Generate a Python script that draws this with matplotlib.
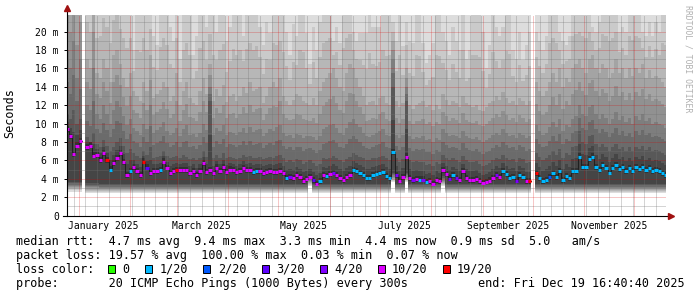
import datetime as dt
import numpy as np
import matplotlib
matplotlib.use("Agg")
import matplotlib.pyplot as plt
import matplotlib.dates as mdates
from matplotlib.patches import Rectangle

# ---------------------------------------------------------------- data
END_TIME = dt.datetime(2025, 12, 19, 16, 40, 40)
SPAN_DAYS = 360
BIN_START = dt.datetime(2024, 12, 24)   # first 2-day consolidation bin
BIN_DAYS = 2
nan = float("nan")

median_ms = [
    9.4, 8.6, 6.7, 7.6, 8.1, nan, 7.4, 7.6, 6.5, 6.6,
    6.0, 6.8, 6.0, 5.0, 5.7, 6.2, 6.8, 5.8, 4.35, 4.8,
    5.25, 4.8, 4.4, 5.85, 5.2, 4.6, 4.8, 4.8, 4.9, 5.85,
    5.15, 4.6, 4.85, 4.9, 4.95, 4.9, 4.95, 4.6, 4.8, 4.4,
    4.8, 5.7, 4.7, 4.95, 4.6, 5.2, 4.85, 5.3, 4.7, 5.0,
    4.9, 4.7, 4.8, 5.15, 4.9, 4.9, 4.7, 4.8, 4.8, 4.6,
    4.7, 4.8, 4.7, 4.75, 4.85, 4.6, 4.05, 4.2, 4.05, 4.4,
    4.2, 3.75, 3.95, 4.2, 3.85, 3.45, 3.7, 4.4, 4.3, 4.5,
    4.65, 4.4, 4.05, 3.85, 4.2, 4.4, 4.95, 4.8, 4.6, 4.4,
    4.1, 4.1, 4.35, 4.55, 4.6, 4.7, 4.3, 4.05, 6.85, 4.4,
    3.8, 4.2, 6.4, 4.05, 3.85, 3.95, 3.9, 3.9, 3.6, 3.7,
    3.4, 3.85, 3.7, 4.9, 4.5, 4.0, 4.4, 4.05, 3.85, 4.8,
    4.05, 3.85, 3.85, 3.95, 3.7, 3.5, 3.6, 3.8, 4.05, 4.4,
    4.2, 4.8, 4.5, 4.05, 4.2, 3.8, 4.4, 4.2, 3.7, 3.7,
    nan, 4.6, 4.05, 3.7, 3.85, 4.2, 4.6, 4.2, 4.8, 3.85,
    4.3, 4.05, 4.8, 4.85, 6.4, 5.3, 5.25, 6.1, 6.4, 5.3,
    4.95, 5.5, 5.15, 4.65, 5.15, 5.5, 5.05, 5.25, 4.85, 5.15,
    4.85, 5.25, 5.05, 5.3, 4.95, 5.15, 4.85, 4.95, 4.8, 4.6,
    4.4,
]

# index into LOSS_LABELS (-1 = no data)
loss_class = [
    5, 5, 5, 5, 5, -1, 5, 5, 5, 5,
    5, 5, 6, 1, 5, 5, 5, 5, 5, 1,
    5, 5, 5, 6, 3, 5, 5, 5, 1, 5,
    5, 5, 5, 6, 5, 5, 5, 5, 5, 5,
    5, 5, 5, 5, 5, 5, 5, 5, 5, 5,
    5, 5, 5, 5, 5, 5, 1, 1, 5, 5,
    5, 5, 5, 5, 5, 5, 1, 4, 5, 5,
    5, 5, 5, 5, 3, 5, 1, 5, 1, 5,
    4, 5, 5, 5, 5, 5, 1, 1, 1, 1,
    1, 1, 1, 1, 1, 1, 1, 1, 1, 4,
    5, 5, 5, 5, 4, 5, 1, 4, 1, 5,
    5, 5, 5, 5, 5, 4, 1, 4, 5, 5,
    5, 5, 5, 5, 5, 5, 5, 5, 5, 4,
    5, 1, 1, 1, 1, 4, 1, 1, 5, 6,
    -1, 6, 1, 1, 1, 2, 1, 1, 1, 1,
    1, 1, 1, 1, 1, 1, 1, 1, 1, 1,
    1, 1, 1, 1, 1, 1, 1, 1, 1, 1,
    1, 1, 1, 1, 1, 1, 1, 1, 1, 1,
    1,
]

# lowest ping of each bin (bottom of the smoke), ms
smoke_floor = [
    2.6, 2.6, 2.6, 2.6, 2.6, nan, 2.45, 2.45, 2.45, 2.45,
    2.4, 2.4, 2.4, 2.4, 2.4, 2.4, 2.4, 2.4, 2.4, 2.4,
    2.4, 2.4, 2.4, 2.4, 2.4, 2.4, 2.4, 2.4, 2.4, 2.4,
    2.4, 2.4, 2.4, 2.4, 2.4, 2.4, 2.4, 2.4, 2.4, 2.4,
    2.4, 2.4, 2.4, 2.4, 2.4, 2.4, 2.4, 2.4, 2.4, 2.4,
    2.4, 2.4, 2.4, 2.4, 2.4, 2.4, 2.4, 2.4, 2.4, 2.4,
    2.4, 2.4, 2.4, 2.4, 2.4, 2.4, 2.4, 2.4, 2.4, 2.4,
    2.4, 2.4, 2.4, 3.2, 2.4, 2.4, 2.4, 2.4, 2.4, 2.4,
    2.4, 2.4, 2.4, 2.4, 2.4, 2.4, 2.4, 2.4, 2.4, 2.4,
    2.4, 2.4, 2.4, 2.4, 2.4, 2.4, 2.4, 2.4, 3.6, 2.4,
    2.4, 2.4, 3.6, 2.4, 2.4, 2.4, 2.4, 2.4, 2.4, 2.4,
    2.4, 2.4, 2.4, 3.2, 2.4, 2.4, 2.4, 2.4, 2.4, 2.4,
    2.4, 2.4, 2.4, 2.4, 2.4, 2.4, 2.4, 2.4, 2.4, 2.4,
    2.4, 2.4, 2.4, 2.4, 2.4, 2.4, 2.4, 2.4, 2.4, 2.4,
    nan, 2.4, 2.4, 2.4, 2.4, 2.4, 2.4, 2.4, 2.4, 2.4,
    2.4, 2.4, 2.4, 2.4, 2.4, 2.4, 2.4, 2.4, 2.4, 2.4,
    2.4, 2.4, 2.4, 2.4, 2.4, 2.4, 2.4, 2.4, 2.4, 2.4,
    2.4, 2.4, 2.4, 2.4, 2.4, 2.4, 2.4, 2.4, 2.4, 2.4,
    2.4,
]

# 13th sorted ping (top of the dark smoke), ms
smoke_p13 = [
    11, 10.5, 11.5, 10, 10.5, nan, 8.5, 8, 9, 7.8,
    7.5, 8.2, 7.6, 7.0, 7.4, 8.0, 8.4, 7.6, 6.8, 7.2,
    6.8, 6.5, 6.2, 7.0, 6.6, 7.5, 6.3, 6.4, 6.5, 7.0,
    6.5, 6.2, 6.4, 6.5, 6.2, 6.6, 6.4, 6.1, 6.3, 6.0,
    6.3, 7.0, 6.4, 12.5, 6.2, 6.6, 6.3, 6.8, 6.2, 6.4,
    6.3, 6.1, 6.3, 6.6, 6.4, 6.5, 6.2, 6.3, 6.4, 6.1,
    6.3, 6.4, 6.2, 6.5, 6.6, 6.2, 5.8, 6.0, 5.8, 6.1,
    6.0, 5.6, 5.8, 6.0, 5.7, 5.4, 5.6, 6.2, 6.1, 6.3,
    6.5, 6.3, 6.0, 5.8, 6.1, 6.4, 6.8, 6.6, 6.4, 6.2,
    6.0, 6.0, 6.2, 6.3, 6.4, 6.5, 6.2, 6.0, 14.0, 6.3,
    5.8, 6.1, 12.5, 6.0, 5.8, 5.9, 5.8, 5.8, 5.5, 5.6,
    5.4, 5.8, 5.6, 6.6, 6.3, 6.0, 6.2, 6.0, 5.8, 6.5,
    6.0, 5.8, 5.8, 5.9, 5.6, 5.4, 5.5, 5.7, 6.0, 6.3,
    6.1, 6.6, 6.3, 6.0, 6.1, 5.8, 6.3, 6.1, 5.7, 5.8,
    nan, 6.8, 6.4, 6.0, 6.2, 6.6, 7.0, 6.6, 7.2, 6.3,
    6.8, 6.6, 7.4, 7.6, 9.2, 8.0, 7.8, 8.6, 8.8, 7.8,
    7.4, 7.8, 7.5, 7.0, 7.4, 7.8, 7.2, 7.5, 7.0, 7.4,
    7.0, 7.5, 7.2, 7.6, 7.1, 7.4, 7.0, 7.1, 7.0, 6.8,
    6.6,
]

# 15th sorted ping, ms
smoke_p15 = [
    18, 16, 19, 15, 17, nan, 12, 11.5, 16, 11,
    10.5, 12, 11, 10, 11.5, 12.5, 11.8, 10.8, 9.8, 10.5,
    9.5, 9.2, 8.8, 10, 9.4, 12, 9.0, 9.3, 9.6, 10.2,
    9.2, 8.8, 9.0, 9.5, 8.6, 9.4, 9.8, 8.7, 8.9, 8.5,
    9.0, 10.0, 9.3, 14.0, 8.8, 9.5, 9.2, 9.8, 8.8, 9.1,
    9.0, 8.7, 9.1, 9.5, 9.0, 9.6, 9.1, 9.3, 9.4, 8.6,
    9.0, 9.4, 9.2, 9.6, 9.8, 9.0, 8.6, 8.8, 8.4, 8.9,
    8.8, 8.4, 8.6, 8.6, 8.5, 8.2, 8.6, 9.4, 9.6, 9.8,
    10.0, 9.5, 9.0, 8.8, 9.5, 10.2, 10.5, 10.0, 9.6, 9.0,
    8.6, 8.5, 8.8, 9.0, 9.2, 9.4, 8.8, 8.6, 17.0, 8.8,
    8.4, 8.7, 14.0, 8.6, 8.3, 8.5, 8.4, 8.6, 8.2, 8.3,
    8.0, 8.4, 8.2, 9.4, 9.0, 8.6, 8.8, 8.6, 8.4, 9.2,
    8.6, 8.4, 8.3, 8.5, 8.2, 8.0, 8.2, 8.4, 8.7, 9.0,
    8.8, 9.4, 9.0, 8.6, 8.8, 8.4, 9.0, 8.8, 8.4, 8.6,
    nan, 9.8, 9.2, 8.8, 9.0, 9.6, 10.2, 9.6, 10.5, 9.2,
    9.8, 9.6, 10.5, 10.8, 12.0, 11.0, 10.8, 11.8, 12.0, 11.0,
    10.5, 11.0, 10.6, 10.0, 10.5, 11.2, 10.4, 10.8, 10.2, 10.6,
    10.0, 10.8, 10.4, 11.0, 10.3, 10.6, 10.0, 10.2, 10.0, 9.8,
    9.5,
]

# 17th sorted ping, ms
smoke_p17 = [
    26, 24, 27, 22, 25, nan, 17, 16, 24, 15.5,
    15, 17, 16, 14.5, 17.5, 18, 16.5, 15, 14, 15.5,
    13.5, 13, 12.5, 14.5, 13.5, 17.5, 12.8, 13.2, 13.6, 14.5,
    14.0, 12.5, 13.0, 15.5, 12.0, 13.5, 14.5, 12.8, 12.2, 12.0,
    13.5, 15.0, 13.2, 16.5, 12.5, 13.8, 13.0, 14.2, 12.3, 13.0,
    13.2, 12.4, 13.0, 14.0, 13.3, 14.5, 13.5, 13.8, 14.0, 12.2,
    13.0, 14.0, 14.5, 14.0, 15.0, 13.0, 12.5, 12.0, 12.6, 13.2,
    13.0, 12.5, 12.2, 12.0, 12.8, 12.0, 13.5, 14.5, 15.0, 15.5,
    16.0, 15.0, 14.0, 13.5, 15.5, 16.5, 16.0, 15.0, 14.0, 13.0,
    12.0, 12.3, 12.5, 12.0, 12.8, 13.0, 12.2, 12.0, 19.0, 12.4,
    11.8, 12.2, 16.0, 12.0, 11.6, 12.0, 12.2, 12.4, 11.8, 12.0,
    11.5, 12.0, 11.6, 13.2, 12.6, 12.0, 12.4, 12.2, 11.8, 13.0,
    12.2, 12.0, 11.8, 12.0, 11.5, 11.4, 11.8, 12.2, 12.5, 13.0,
    12.6, 13.4, 12.8, 12.2, 12.4, 12.0, 12.8, 12.4, 12.0, 12.4,
    nan, 14.5, 13.5, 13.0, 13.5, 14.5, 15.5, 14.5, 16.0, 14.0,
    15.0, 14.5, 16.0, 16.5, 17.0, 16.0, 15.5, 17.0, 17.5, 16.0,
    15.5, 16.5, 16.0, 15.0, 15.5, 17.0, 15.5, 16.0, 15.0, 16.0,
    15.2, 16.0, 15.5, 16.5, 15.0, 15.8, 15.0, 15.2, 15.0, 14.5,
    14.0,
]

# 19th sorted ping, ms
smoke_p19 = [
    30, 28, 30, 27, 28, nan, 25, 24, 26, 23,
    24, 26, 25, 23, 25, 26, 24, 23.5, 22.5, 23,
    18.0, 23, 23, 24, 22.5, 23, 19.5, 18.5, 23, 24,
    23, 20.5, 19.0, 23, 17.0, 22.5, 23, 22, 17.5, 19.5,
    23, 23, 20.5, 23, 22.5, 20, 23, 23, 19, 20.5,
    23, 22.5, 23, 19.5, 23, 23, 22.5, 23, 20.5, 18.5,
    21, 19.8, 23, 23, 23, 22.5, 20, 17.5, 20.8, 19.5,
    23, 23, 19.8, 16.5, 20.5, 18.0, 21, 23, 23, 23,
    19.0, 20.5, 18.7, 23, 23, 23, 20.0, 19.0, 19.8, 19.8,
    19.8, 23, 20.5, 20.5, 20.5, 23, 22.5, 23, 21.0, 19.0,
    23, 18.4, 21, 19.0, 18.8, 23, 22.5, 18.7, 16.6, 17.5,
    18.7, 23, 23, 20.0, 19.0, 17.5, 20.5, 19.0, 18.0, 23,
    17.0, 18.0, 23, 23, 23, 20.0, 16.0, 18.5, 23, 20.5,
    19.5, 20.5, 23, 23, 18.0, 17.0, 20.0, 16.9, 18.5, 20.0,
    nan, 20.0, 19.0, 18.0, 19.5, 23, 23, 23, 20.0, 19.0,
    18.5, 19.5, 23, 23, 23, 23, 23, 23, 20.5, 20.0,
    21.0, 23, 23, 23, 23, 23, 20.0, 20.5, 20.0, 23,
    23, 23, 23, 20.0, 19.5, 21.0, 19.5, 21.0, 20.0, 23,
    23,
]

LOSS_LABELS = ["0", "1/20", "2/20", "3/20", "4/20", "10/20", "19/20"]
LOSS_COLORS = ["#26ff00", "#00b8ff", "#0059ff", "#5e00ff", "#7e00ff", "#dd00ff", "#ff0000"]

Y_TICKS = [0, 2, 4, 6, 8, 10, 12, 14, 16, 18, 20]
MONTH_LABELS = ["January 2025", "March 2025", "May 2025", "July 2025",
                "September 2025", "November 2025"]
MONTH_LABEL_STARTS = [dt.datetime(2025, m, 1) for m in (1, 3, 5, 7, 9, 11)]

MEDIAN_STATS = [4.7, 9.4, 3.3, 4.4]          # avg, max, min, now (ms)
MEDIAN_SD = 0.9
MEDIAN_AMS = 5.0
LOSS_STATS = [19.57, 100.00, 0.03, 0.07]     # avg, max, min, now (%)
PROBE_TEXT = "20 ICMP Echo Pings (1000 Bytes) every 300s"

# ---------------------------------------------------------------- style
W, H = 697, 297
FONT = "DejaVu Sans Mono"
SMOKE_GRAYS = ["#dddddd", "#cacaca", "#b7b7b7", "#a4a4a4", "#919191",
               "#7e7e7e", "#6b6b6b", "#585858", "#454545", "#323232"]
AX_L, AX_R, AX_B, AX_T = 66.5, 665.5, 215.5, 14.5
Y_MAX = 21.85

fig = plt.figure(figsize=(W / 100, H / 100), dpi=100)
fig.patch.set_facecolor("white")
ax = fig.add_axes([AX_L / W, 1 - AX_B / H, (AX_R - AX_L) / W, (AX_B - AX_T) / H])
ax.set_facecolor("white")

START_TIME = END_TIME - dt.timedelta(days=SPAN_DAYS)
t_end = mdates.date2num(END_TIME)
t_start = mdates.date2num(START_TIME)
ax.set_xlim(t_start, t_end)
ax.set_ylim(0, Y_MAX)

n = len(median_ms)
edges = mdates.date2num(BIN_START) + BIN_DAYS * np.arange(n + 1)
xs = np.repeat(edges, 2)[1:-1]


def stepped(v):
    return np.repeat(np.asarray(v, dtype=float), 2)


med = np.array(median_ms, dtype=float)
fl = np.array(smoke_floor, dtype=float)
p13 = np.array(smoke_p13, dtype=float)
p15 = np.array(smoke_p15, dtype=float)
p17 = np.array(smoke_p17, dtype=float)
p19 = np.array(smoke_p19, dtype=float)

# smoke layers (gray gradient between the sorted pings)
low_off = [0, 0.12, 0.24, 0.36, 0.48, 0.6, 0.75, 0.9, 1.05]
lows = [fl + o for o in low_off]
core_lo = lows[-1]
m_lo = np.maximum(med - 0.3, core_lo)
m_hi = med + 0.35
p12 = np.maximum((med + p13) / 2, m_hi)
p14 = (p13 + p15) / 2
p16 = (p15 + p17) / 2
p18 = (p17 + p19) / 2
top = np.where(np.isnan(med), nan, 40.0)

layers = [(lows[i], lows[i + 1], SMOKE_GRAYS[i]) for i in range(8)]
layers += [
    (core_lo, m_lo, SMOKE_GRAYS[8]),
    (m_lo, m_hi, SMOKE_GRAYS[9]),
    (m_hi, p12, SMOKE_GRAYS[8]),
    (p12, p13, SMOKE_GRAYS[7]),
    (p13, p14, SMOKE_GRAYS[6]),
    (p14, p15, SMOKE_GRAYS[5]),
    (p15, p16, SMOKE_GRAYS[4]),
    (p16, p17, SMOKE_GRAYS[3]),
    (p17, p18, SMOKE_GRAYS[2]),
    (p18, p19, SMOKE_GRAYS[1]),
    (p19, top, SMOKE_GRAYS[0]),
]
for lo, hi, col in layers:
    ax.fill_between(xs, stepped(lo), stepped(hi), color=col, lw=0,
                    antialiased=False, zorder=1)

# grid (1px dotted, as rrdtool draws it)
MINOR_GRID = (0.45, 0.45, 0.45, 0.3)
MAJOR_GRID = (0.85, 0.0, 0.0, 0.22)
dots = (0, (1, 1))
weeks = mdates.WeekdayLocator(byweekday=mdates.SU).tick_values(START_TIME, END_TIME)
months = mdates.MonthLocator().tick_values(START_TIME, END_TIME)
weeks = [w for w in weeks if t_start < w < t_end]
months = [m for m in months if t_start < m < t_end]
gkw = dict(linestyles=dots, lw=0.72, antialiased=False)
ax.vlines(weeks, 0, Y_MAX, colors=[MINOR_GRID], zorder=2, **gkw)
ax.vlines(months, 0, Y_MAX, colors=[MAJOR_GRID], zorder=2.1, **gkw)
ax.hlines(np.arange(1, 22, 2), t_start, t_end, colors=[MINOR_GRID], zorder=2, **gkw)
ax.hlines(Y_TICKS[1:], t_start, t_end, colors=[MAJOR_GRID], zorder=2.1, **gkw)

# median line + loss-coloured segments
ax.plot(xs, stepped(med), color="#202020", lw=0.75, zorder=3)
cls = np.array(loss_class)
for ci, col in enumerate(LOSS_COLORS):
    sel = cls == ci
    if sel.any():
        ax.hlines(med[sel], edges[:-1][sel], edges[1:][sel], colors=col,
                  lw=2.2, zorder=4, capstyle="butt")

# axes
for s in ax.spines.values():
    s.set_visible(False)
ax.set_yticks(Y_TICKS)
ax.set_yticklabels(["0" if v == 0 else f"{v} m" for v in Y_TICKS],
                   family=FONT, fontsize=7)
ax.tick_params(axis="y", length=2.5, width=0.7, pad=3, colors="black")
label_pos = [mdates.date2num(d) + 15 for d in MONTH_LABEL_STARTS]
ax.set_xticks(label_pos)
ax.set_xticklabels(MONTH_LABELS, family=FONT, fontsize=7)
ax.tick_params(axis="x", length=0, pad=4.2)

ARROW = "#a01010"
ax.plot([0, 0], [0, 1.022], transform=ax.transAxes, color="black", lw=0.8,
        clip_on=False, zorder=6)
ax.plot([-0.006, 1.004], [0, 0], transform=ax.transAxes, color="black", lw=0.8,
        clip_on=False, zorder=6)
ax.plot([0], [1.03], marker="^", ms=4, color=ARROW, transform=ax.transAxes,
        clip_on=False, zorder=7, mec=ARROW)
ax.plot([1.0085], [0], marker=">", ms=4, color=ARROW, transform=ax.transAxes,
        clip_on=False, zorder=7, mec=ARROW)


# texts
def ftext(x, y, s, **kw):
    kw.setdefault("family", FONT)
    kw.setdefault("fontsize", 8.5)
    kw.setdefault("va", "baseline")
    kw.setdefault("ha", "left")
    fig.text(x / W, 1 - y / H, s, **kw)


ftext(10, 113, "Seconds", rotation=90, ha="center", va="center")
ftext(688, 59, "RRDTOOL / TOBI OETIKER", rotation=270, ha="center", va="center",
      fontsize=5.9, color="#b0b0b0")

a, mx, mn, now = MEDIAN_STATS
ftext(16, 244.8, f"median rtt:  {a:.1f} ms avg  {mx:.1f} ms max  {mn:.1f} ms min  "
                 f"{now:.1f} ms now  {MEDIAN_SD:.1f} ms sd  {MEDIAN_AMS:.1f}   am/s")
la, lmx, lmn, lnow = LOSS_STATS
ftext(16, 259, f"packet loss: {la:.2f} % avg  {lmx:.2f} % max  {lmn:.2f} % min  "
               f"{lnow:.2f} % now")
ftext(16, 273, "loss color:")
box_x = [108.3, 145, 203.3, 261.7, 320, 377.7, 442.7]
for bx, lab, col in zip(box_x, LOSS_LABELS, LOSS_COLORS):
    fig.add_artist(Rectangle((bx / W, 1 - 273 / H), 7 / W, 8 / H,
                             transform=fig.transFigure, fc=col, ec="black", lw=0.7))
    ftext(bx + 14.4, 273, lab)
ftext(16, 287, "probe:       " + PROBE_TEXT)
ftext(478, 287, "end: " + END_TIME.strftime("%a %b %d %H:%M:%S %Y"))

fig.savefig("out.png", dpi=100, facecolor="white")
